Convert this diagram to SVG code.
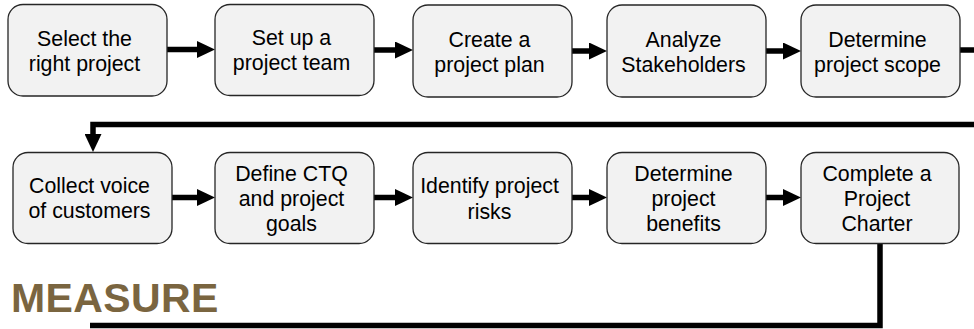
<svg xmlns="http://www.w3.org/2000/svg" width="974" height="329" viewBox="0 0 974 329">
<defs>
<style>
.box{fill:#f2f2f2;stroke:#262626;stroke-width:1.3}
.lbl{font-family:"Liberation Sans",Arial,sans-serif;font-size:21.33px;fill:#000;text-anchor:middle}
.con{fill:none;stroke:#000;stroke-width:5.5}
.title{font-family:"Liberation Sans",Arial,sans-serif;font-size:41px;font-weight:bold;fill:#7a6540;letter-spacing:0.4px}
</style>
<marker id="ah" markerUnits="userSpaceOnUse" markerWidth="18" markerHeight="17" refX="8" refY="8.5" orient="auto">
<path d="M0,0 L18,8.5 L0,17 z" fill="#000"/>
</marker>
</defs>
<g id="connectors">
<path class="con" d="M167,49.5 H205" marker-end="url(#ah)"/>
<path class="con" d="M374,50 H403" marker-end="url(#ah)"/>
<path class="con" d="M572,51 H597" marker-end="url(#ah)"/>
<path class="con" d="M766,51 H791" marker-end="url(#ah)"/>
<path class="con" d="M960,50 H985 V124.5 H93 V142" marker-end="url(#ah)"/>
<path class="con" d="M172,197.5 H205" marker-end="url(#ah)"/>
<path class="con" d="M374,197.5 H403" marker-end="url(#ah)"/>
<path class="con" d="M572,197.5 H597" marker-end="url(#ah)"/>
<path class="con" d="M766,197.5 H791" marker-end="url(#ah)"/>
<path class="con" d="M880,243.5 V325.5 H90"/>
</g>
<g id="n1"><rect class="box" x="8" y="4.5" width="159" height="91.5" rx="15"/><text class="lbl" x="84.5" y="45.5">Select the<tspan x="84.5" dy="25.5">right project</tspan></text></g>
<g id="n2"><rect class="box" x="215" y="4.5" width="159" height="91" rx="15"/><text class="lbl" x="291.5" y="44.5">Set up a<tspan x="291.5" dy="25.5">project team</tspan></text></g>
<g id="n3"><rect class="box" x="413" y="5" width="159" height="92" rx="15"/><text class="lbl" x="489.5" y="46.5">Create a<tspan x="489.5" dy="25.5">project plan</tspan></text></g>
<g id="n4"><rect class="box" x="607" y="5" width="159" height="92" rx="15"/><text class="lbl" x="683.5" y="46.5">Analyze<tspan x="683.5" dy="25.5">Stakeholders</tspan></text></g>
<g id="n5"><rect class="box" x="801" y="5" width="159" height="92" rx="15"/><text class="lbl" x="877.5" y="46.5">Determine<tspan x="877.5" dy="25.5">project scope</tspan></text></g>
<g id="n6"><rect class="box" x="13" y="152.5" width="159" height="91" rx="15"/><text class="lbl" x="89.5" y="192.5">Collect voice<tspan x="89.5" dy="25.5">of customers</tspan></text></g>
<g id="n7"><rect class="box" x="215" y="152.5" width="159" height="91" rx="15"/><text class="lbl" x="291.5" y="181">Define CTQ<tspan x="291.5" dy="25">and project</tspan><tspan x="291.5" dy="25">goals</tspan></text></g>
<g id="n8"><rect class="box" x="413" y="152.5" width="159" height="91" rx="15"/><text class="lbl" x="489.5" y="193">Identify project<tspan x="489.5" dy="25.5">risks</tspan></text></g>
<g id="n9"><rect class="box" x="607" y="152.5" width="159" height="91" rx="15"/><text class="lbl" x="683.5" y="181">Determine<tspan x="683.5" dy="25">project</tspan><tspan x="683.5" dy="25">benefits</tspan></text></g>
<g id="n10"><rect class="box" x="801" y="152.5" width="158" height="91" rx="15"/><text class="lbl" x="877" y="181">Complete a<tspan x="877" dy="25">Project</tspan><tspan x="877" dy="25">Charter</tspan></text></g>
<text class="title" x="11" y="312.3">MEASURE</text>
</svg>
